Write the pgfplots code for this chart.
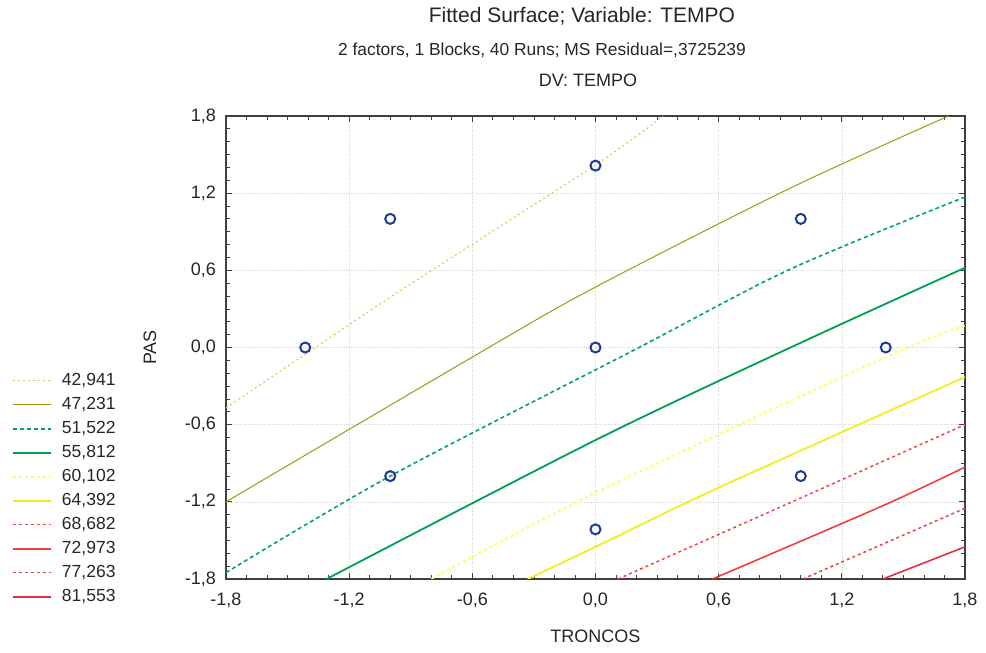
\documentclass[border=0pt]{standalone}
\usepackage{fontspec}
\setmainfont{Liberation Sans}
\usepackage{pgfplots}
\pgfplotsset{compat=1.18}
\definecolor{cA}{HTML}{CCCC3A}
\definecolor{cB}{HTML}{A09A10}
\definecolor{cC}{HTML}{00A078}
\definecolor{cD}{HTML}{00A050}
\definecolor{cE}{HTML}{FFFF55}
\definecolor{cF}{HTML}{F2EE1E}
\definecolor{cG}{HTML}{F04848}
\definecolor{cH}{HTML}{F04040}
\definecolor{cI}{HTML}{E04848}
\definecolor{cJ}{HTML}{E0304A}
\definecolor{mk}{HTML}{1F3A93}
\begin{document}
\fontsize{18}{21}\selectfont
\begin{tikzpicture}
\begin{axis}[
  at={(0pt,0pt)}, anchor=south west,
  scale only axis, width=739pt, height=463pt,
  xmin=-1.8, xmax=1.8, ymin=-1.8, ymax=1.8,
  xtick={-1.8,-1.2,-0.6,0,0.6,1.2,1.8},
  ytick={-1.8,-1.2,-0.6,0,0.6,1.2,1.8},
  minor tick num=5,
  tick align=inside,
  major tick length=6pt, minor tick length=4pt,
  tick style={black!75, line width=0.8pt},
  axis line style={black!75, line width=1.5pt},
  grid=major, grid style={gray!35, dotted, line width=0.6pt},
  /pgf/number format/fixed, /pgf/number format/fixed zerofill,
  /pgf/number format/precision=1, /pgf/number format/use comma,
  /pgf/number format/assume math mode=true,
  tick label style={font=\fontsize{18}{21}\selectfont, black!85},
  yticklabel style={xshift=-4pt},
  xticklabel style={yshift=-8pt},
  xlabel={TRONCOS}, ylabel={PAS},
  label style={font=\fontsize{18}{21}\selectfont, black!85},
  xlabel style={at={(axis description cs:0.5,-0.123)}, anchor=center},
  ylabel style={at={(axis description cs:-0.1028,0.5)}, anchor=center, rotate=0},
  legend style={at={(axis description cs:-0.2896,0.447)}, anchor=north west,
    draw=none, fill=none, font=\fontsize{17.5}{21}\selectfont,
    row sep=7pt, column sep=10pt, inner sep=0pt,
    nodes={inner sep=0pt, text height=13pt, text depth=4pt, text=black!85}},
  legend cell align=left,
  legend image code/.code={\draw[#1] (0pt,0pt) -- (38pt,0pt);},
]
\addplot[cA, line width=1pt, dash pattern=on 2pt off 3pt, smooth, tension=0.5] coordinates {(-1.8,-0.47) (-1.0,0.39) (0.0,1.42) (0.33,1.8)};
\addlegendentry{42,941}
\addplot[cB, line width=1pt, smooth, tension=0.5] coordinates {(-1.8,-1.2) (-0.52,0.0) (0.0,0.47) (0.95,1.24) (1.72,1.8)};
\addlegendentry{47,231}
\addplot[cC, line width=1.6pt, dash pattern=on 4pt off 3pt, smooth, tension=0.5] coordinates {(-1.8,-1.75) (-1.0,-1.0) (0.2,-0.01) (0.95,0.61) (1.8,1.17)};
\addlegendentry{51,522}
\addplot[cD, line width=1.8pt, smooth, tension=0.5] coordinates {(-1.31,-1.8) (0.0,-0.72) (0.95,0.0) (1.8,0.62)};
\addlegendentry{55,812}
\addplot[cE, line width=1.8pt, dash pattern=on 3pt off 3pt, smooth, tension=0.5] coordinates {(-0.80,-1.8) (0.0,-1.13) (1.42,-0.07) (1.8,0.17)};
\addlegendentry{60,102}
\addplot[cF, line width=1.8pt, smooth, tension=0.5] coordinates {(-0.33,-1.8) (0.0,-1.55) (0.6,-1.09) (1.8,-0.23)};
\addlegendentry{64,392}
\addplot[cG, line width=1.5pt, dash pattern=on 3pt off 3pt, smooth, tension=0.5] coordinates {(0.11,-1.8) (1.0,-1.17) (1.8,-0.60)};
\addlegendentry{68,682}
\addplot[cH, line width=1.6pt, smooth, tension=0.5] coordinates {(0.57,-1.8) (1.4,-1.23) (1.8,-0.93)};
\addlegendentry{72,973}
\addplot[cI, line width=1.5pt, dash pattern=on 3pt off 3pt] coordinates {(1.01,-1.8) (1.8,-1.25)};
\addlegendentry{77,263}
\addplot[cJ, line width=1.6pt] coordinates {(1.40,-1.8) (1.8,-1.55)};
\addlegendentry{81,553}
\addplot[only marks, mark=o, mark size=5pt, mk, mark options={line width=2pt}, forget plot] coordinates {
(-1.414,0) (-1,1) (-1,-1) (0,1.414) (0,0) (0,-1.414) (1,1) (1,-1) (1.414,0)};
\end{axis}
\node[anchor=base, text=black!85, font=\fontsize{21}{24}\selectfont] at (356pt,556pt) {Fitted Surface; Variable: TEMPO};
\node[anchor=base, text=black!85, font=\fontsize{17.4}{21}\selectfont] at (316pt,523pt) {2 factors, 1 Blocks, 40 Runs; MS Residual=,3725239};
\node[anchor=base, text=black!85] at (362pt,492pt) {DV: TEMPO};
\path[use as bounding box] (-226pt,-74pt) rectangle (760pt,579pt);
\end{tikzpicture}
\end{document}
